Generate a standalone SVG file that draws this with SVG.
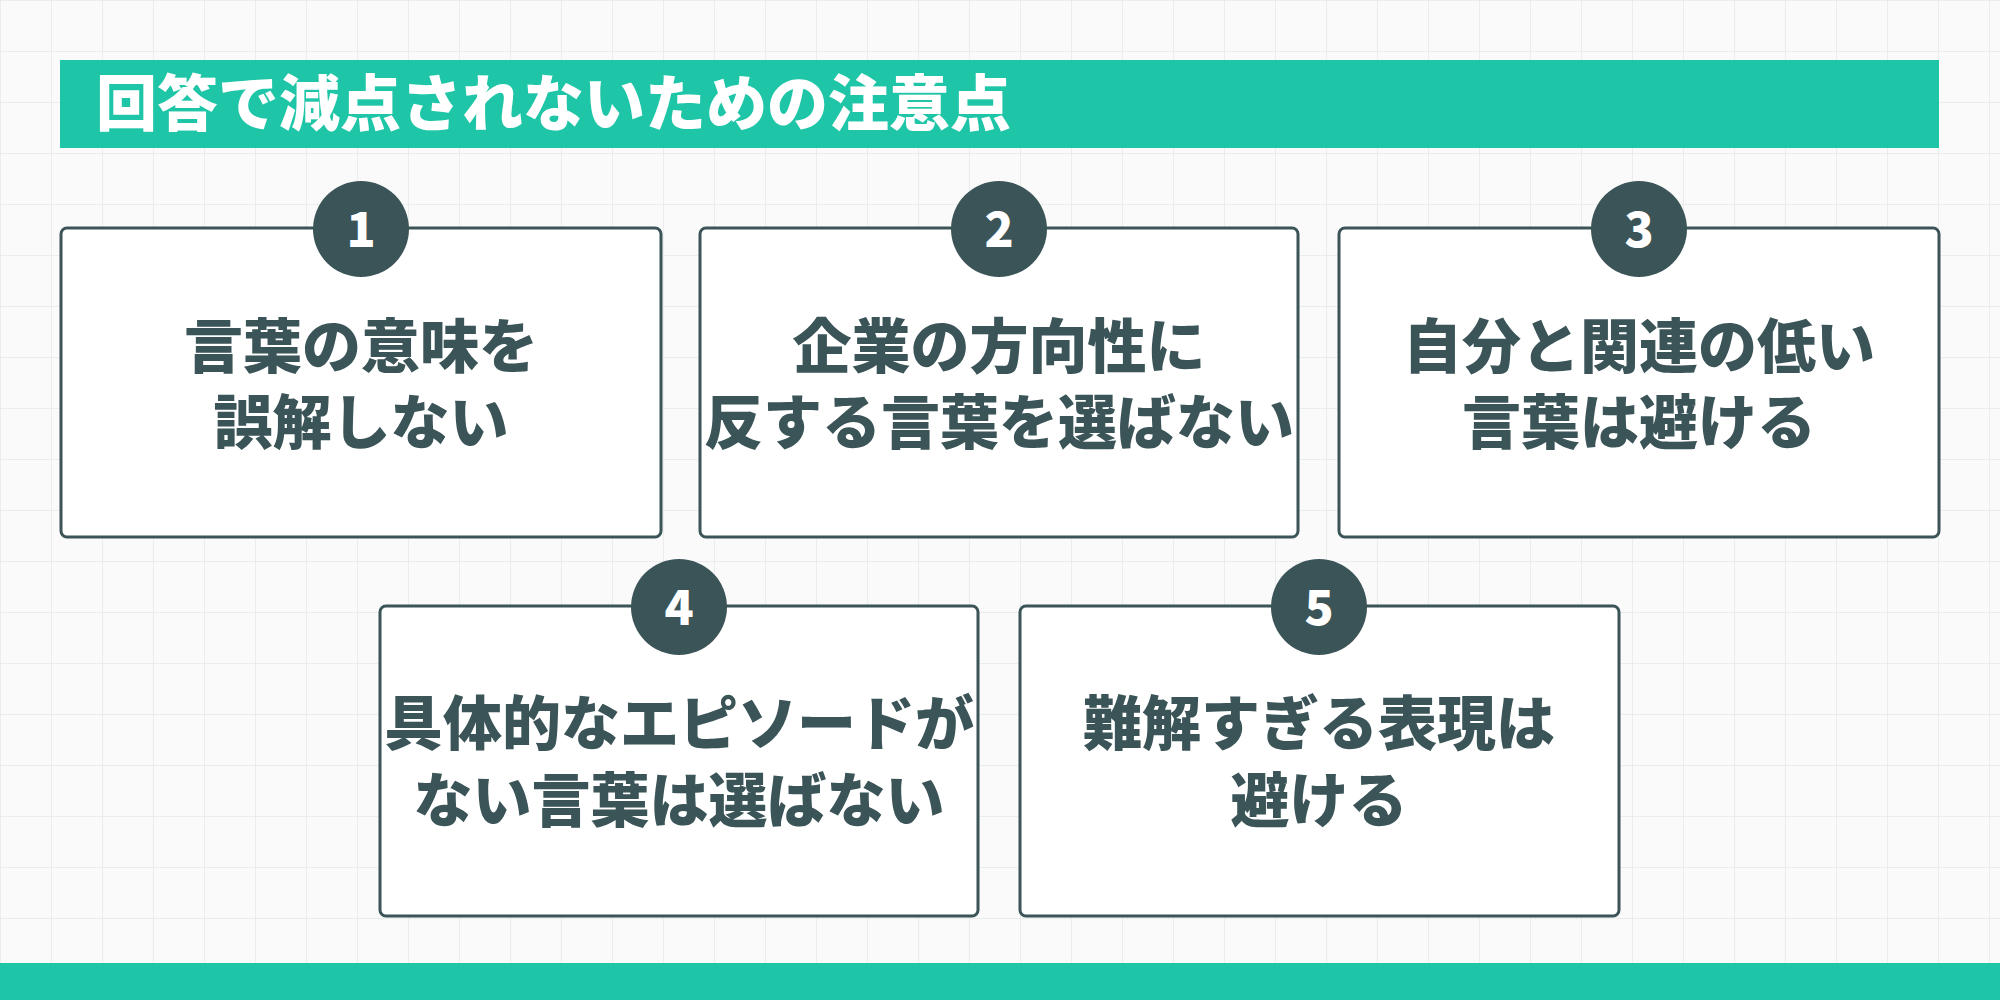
<svg xmlns="http://www.w3.org/2000/svg" width="2000" height="1000" viewBox="0 0 2000 1000">
<defs>
<pattern id="grid" width="51" height="51" patternUnits="userSpaceOnUse">
<path d="M51 0H0V51" fill="none" stroke="#e6e8e8" stroke-width="1.5"/>
</pattern>
<style>
.box{fill:#fff;stroke:#3b5457;stroke-width:3}
.num{fill:#3b5457}
.numt{fill:#fff;font-family:"Noto Sans CJK JP","Noto Sans",sans-serif;font-weight:900;font-size:48px;text-anchor:middle}
.t{fill:#3b5457;font-family:"Noto Sans CJK JP",sans-serif;font-weight:900;font-size:59px;text-anchor:middle}
</style>
</defs>
<rect width="2000" height="1000" fill="#fafafa"/>
<rect width="2000" height="1000" fill="url(#grid)"/>
<g id="title">
<rect x="60" y="60" width="1879" height="88" fill="#1fc5a7"/>
<text x="96" y="126" fill="#fff" font-family="'Noto Sans CJK JP',sans-serif" font-weight="900" font-size="61">回答で減点されないための注意点</text>
</g>
<rect id="footer" x="0" y="963" width="2000" height="37" fill="#1fc5a7"/>
<g id="n1">
<rect class="box" x="61" y="228" width="600" height="309" rx="6"/>
<circle class="num" cx="361" cy="229" r="48"/><text class="numt" x="361" y="247">1</text>
<text class="t" x="361" y="368">言葉の意味を</text><text class="t" x="361" y="444">誤解しない</text>
</g>
<g id="n2">
<rect class="box" x="700" y="228" width="598" height="309" rx="6"/>
<circle class="num" cx="999" cy="229" r="48"/><text class="numt" x="999" y="247">2</text>
<text class="t" x="999" y="368">企業の方向性に</text><text class="t" x="999" y="444">反する言葉を選ばない</text>
</g>
<g id="n3">
<rect class="box" x="1339" y="228" width="600" height="309" rx="6"/>
<circle class="num" cx="1639" cy="229" r="48"/><text class="numt" x="1639" y="247">3</text>
<text class="t" x="1639" y="368">自分と関連の低い</text><text class="t" x="1639" y="444">言葉は避ける</text>
</g>
<g id="n4">
<rect class="box" x="380" y="606" width="598" height="310" rx="6"/>
<circle class="num" cx="679" cy="607" r="48"/><text class="numt" x="679" y="625">4</text>
<text class="t" x="679" y="745">具体的なエピソードが</text><text class="t" x="679" y="822">ない言葉は選ばない</text>
</g>
<g id="n5">
<rect class="box" x="1020" y="606" width="599" height="310" rx="6"/>
<circle class="num" cx="1319" cy="607" r="48"/><text class="numt" x="1319" y="625">5</text>
<text class="t" x="1319" y="745">難解すぎる表現は</text><text class="t" x="1319" y="822">避ける</text>
</g>
<g id="connectors"/>
</svg>
